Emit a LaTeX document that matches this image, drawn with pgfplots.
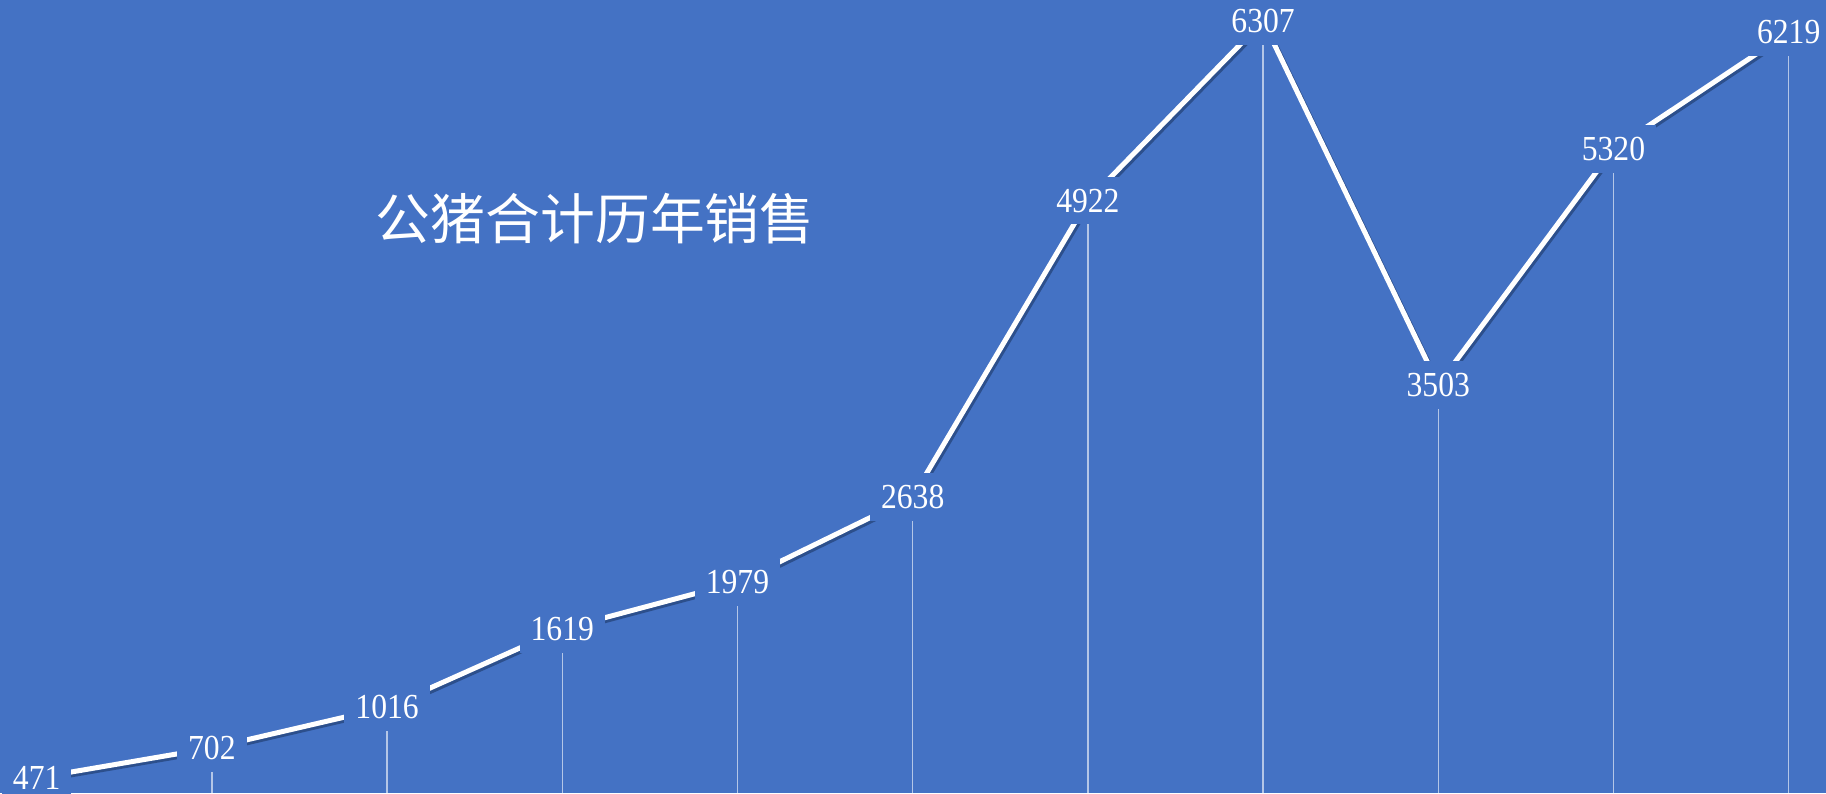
\documentclass[border=0pt]{standalone}
\usepackage{fontspec}
\setmainfont{Liberation Serif}[FakeStretch=0.9]
\newfontfamily\cjk{Noto Sans CJK SC}
\usepackage{pgfplots}
\pgfplotsset{compat=1.18}
\definecolor{bg}{HTML}{4472C4}
\definecolor{shade}{HTML}{2C4F8C}

\pgfplotstableread{
x  y
0  471
1  702
2  1016
3  1619
4  1979
5  2638
6  4922
7  6307
8  3503
9  5320
10 6219
}\sales

\begin{document}
\begin{tikzpicture}
\begin{axis}[
  name=main,
  scale only axis,
  width=182.6mm, height=79.3mm,
  xmin=-0.2095, xmax=10.213,
  ymin=354.7, ymax=6469,
  hide axis,
  axis background/.style={fill=bg},
  clip=true,
  /pgf/number format/.cd, fixed, precision=0, 1000 sep={}, assume math mode=true,
]
% drop lines
\addplot[ycomb, draw=white, draw opacity=0.6, line width=0.15mm, mark=none] table {\sales};
% shadow of the line
\addplot[draw=shade, line width=0.5mm, mark=none, shift={(0.2mm,-0.25mm)}] table {\sales};
\addplot[draw=white, line width=0.5mm, mark=none] table {\sales};
% value labels
\addplot[draw=none, mark=none,
  nodes near coords,
  every node near coord/.style={anchor=center, fill=bg, text=white,
    inner xsep=1.1mm, inner ysep=1.2mm,
    font=\fontsize{10pt}{11pt}\selectfont},
] table {\sales};
\node[text=white, font=\cjk\fontsize{15.6pt}{18pt}\selectfont]
  at (rel axis cs:0.326,0.724) {公猪合计历年销售};
\end{axis}
\pgfresetboundingbox
\path[use as bounding box] (main.south west) rectangle (main.north east);
\end{tikzpicture}
\end{document}
